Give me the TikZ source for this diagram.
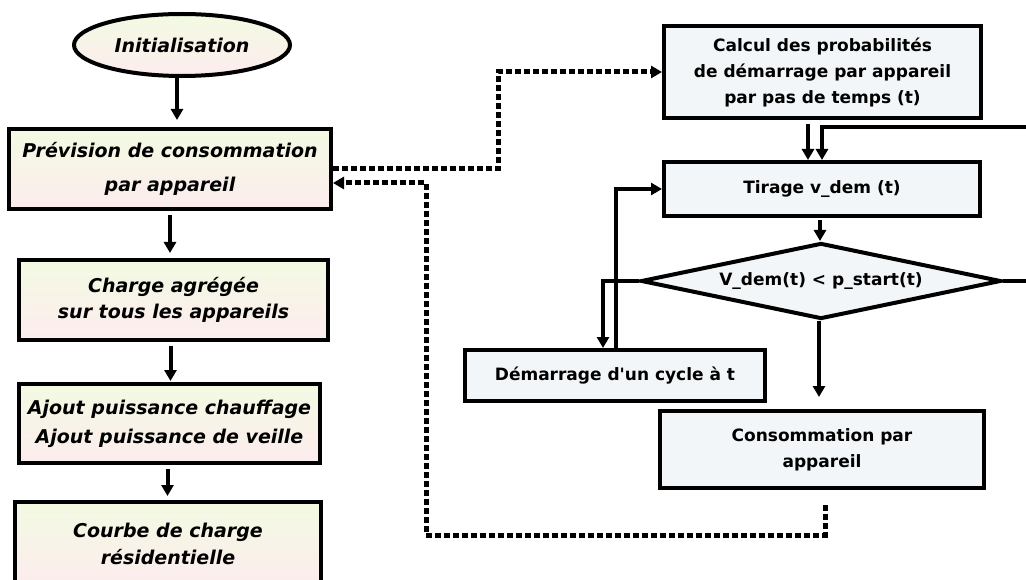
\documentclass[tikz,border=0pt]{standalone}
\usepackage{fontspec}
\setmainfont{DejaVu Sans}
\usetikzlibrary{shapes.geometric,arrows.meta}
\definecolor{lgtop}{HTML}{F2FAE2}
\definecolor{lgbot}{HTML}{FDECEE}
\definecolor{rfill}{HTML}{F2F6F8}
\begin{document}
\begin{tikzpicture}[x=1pt,y=-1pt,
  lbox/.style={draw, line width=4pt, top color=lgtop, bottom color=lgbot, inner sep=0pt, align=center},
  ellbox/.style={ellipse, draw, line width=4pt, top color=lgtop, bottom color=lgbot, inner sep=0pt, align=center},
  rbox/.style={draw, line width=4pt, fill=rfill, inner sep=0pt, align=center},
  lfont/.style={font=\fontsize{19}{#1}\selectfont\bfseries\itshape},
  rfont/.style={font=\fontsize{17}{26}\selectfont\bfseries},
  arr/.style={line width=4pt, -{Triangle[length=11pt,width=12pt]}},
  dotarr/.style={line width=5pt, dash pattern=on 6pt off 3pt, -{Triangle[length=11pt,width=12pt]}},
  dotline/.style={line width=5pt, dash pattern=on 6pt off 3pt}
]
\useasboundingbox (0,0) rectangle (1026,580);

% left column
\node[ellbox, lfont=23, minimum width=216pt, minimum height=62pt] (ini) at (182,45) {Initialisation};
\node[lbox, lfont=34, minimum width=322pt, minimum height=80pt] (prev) at (170,169) {Prévision de consommation\\par appareil};
\node[lbox, lfont=26, minimum width=309pt, minimum height=80pt] (charge) at (173.5,300) {Charge agrégée\\sur tous les appareils};
\node[lbox, lfont=29, minimum width=301pt, minimum height=79pt] (ajout) at (169.5,423.5) {Ajout puissance chauffage\\Ajout puissance de veille};
\node[lbox, lfont=27, minimum width=306pt, minimum height=84pt] (courbe) at (168,544) {Courbe de charge\\résidentielle};

\draw[arr, shorten >=7pt] ([xshift=-5pt]ini.south) -- ([xshift=-5pt]ini.south |- prev.north);
\draw[arr, shorten <=4pt, shorten >=5pt] (prev.south) -- (prev.south |- charge.north);
\draw[arr, shorten <=4pt, shorten >=1pt] ([xshift=-3pt]charge.south) -- ([xshift=-3pt]charge.south |- ajout.north);
\draw[arr, shorten <=4pt, shorten >=4pt] ([xshift=-2pt]ajout.south) -- ([xshift=-2pt]ajout.south |- courbe.north);

% right column
\node[rbox, rfont, minimum width=317pt, minimum height=92pt] (calc) at (822.5,72) {Calcul des probabilités\\de démarrage par appareil\\par pas de temps (t)};
\node[rbox, rfont, minimum width=316pt, minimum height=54pt] (tir) at (822,189) {Tirage v\_dem (t)};
\node[diamond, draw, line width=4pt, fill=rfill, inner sep=0pt, aspect=4.7, rfont, minimum width=360pt, minimum height=76pt] (dia) at (821,281) {V\_dem(t) < p\_start(t)};
\node[rbox, rfont, minimum width=300pt, minimum height=51pt] (demar) at (615,375.5) {Démarrage d\textquotesingle un cycle à t};
\node[rbox, rfont, minimum width=324pt, minimum height=77pt] (conso) at (822,449.5) {Consommation par\\appareil};

\coordinate (loopR) at (1040,127);
\draw[arr, shorten <=4pt] ([xshift=-14.5pt]calc.south) -- ([xshift=-14.5pt]calc.south |- tir.north);
\draw[arr] (dia.east) -| (loopR) -- (loopR -| tir.north) -- (tir.north);
\draw[arr, shorten <=2pt] ([xshift=-2pt]tir.south) -- ([xshift=-2pt]tir.south |- dia.north);
\draw[arr, shorten >=12pt] ([xshift=-2pt]dia.south) -- ([xshift=-2pt]dia.south |- conso.north);
\draw[arr] (dia.west) -| ([xshift=-12pt]demar.north);
\draw[arr] ([xshift=1pt]demar.north) |- (tir.west);

% dotted links
\coordinate (d1) at (498,169);
\draw[dotarr] (prev.east) -- (d1) |- (calc.west);
\coordinate (d2a) at (825,535);
\coordinate (d2b) at (426,535);
\draw[dotarr, shorten <=15pt] ([xshift=3pt]conso.south) -- (d2a) -- (d2b) |- ([yshift=-14pt]prev.east);
\end{tikzpicture}
\end{document}
